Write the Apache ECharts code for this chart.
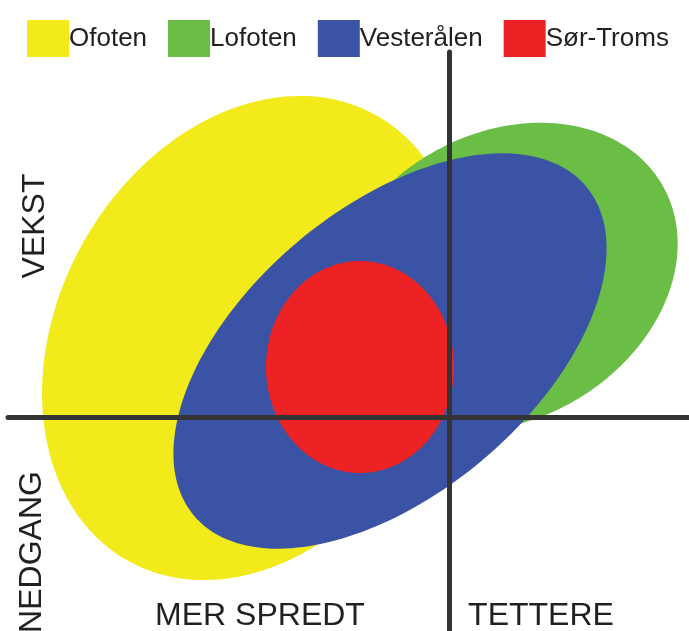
<!DOCTYPE html>
<html>
<head>
<meta charset="utf-8">
<script src="https://cdn.jsdelivr.net/npm/echarts@6/dist/echarts.min.js"></script>
<style>
  html, body { margin: 0; padding: 0; background: #fff; }
  #main { width: 689px; height: 631px; }
</style>
</head>
<body>
<div id="main"></div>
<script>
// regions, drawn in this order (later ones on top)
const regions = ['Ofoten', 'Lofoten', 'Vesterålen', 'Sør-Troms'];
const colors = ['#F2EA1A', '#6ABD45', '#3A53A4', '#ED2224'];
// ellipse per region, in axis units (origin = where the two lines cross)
const centerX = [-197, 54, -59, -89];
const centerY = [79, 140, 66, 50];
const radiusA = [255, 184, 256, 94];
const radiusB = [194, 143, 143, 106];
const tiltDeg = [61, 30, 40, 0];
// quadrant labels
const yLabels = ['VEKST', 'NEDGANG'];
const xLabels = ['MER SPREDT', 'TETTERE'];

const font = '"Liberation Sans", Arial, sans-serif';
const textColor = '#231f20';

const chart = echarts.init(document.getElementById('main'));

function renderEllipse(params, api) {
  var cx = api.value(0), cy = api.value(1);
  var ra = api.value(2), rb = api.value(3);
  var t = api.value(4) * Math.PI / 180;
  var pts = [];
  for (var i = 0; i < 200; i++) {
    var a = i / 200 * Math.PI * 2;
    var ex = ra * Math.cos(a), ey = rb * Math.sin(a);
    pts.push(api.coord([
      cx + ex * Math.cos(t) - ey * Math.sin(t),
      cy + ex * Math.sin(t) + ey * Math.cos(t)
    ]));
  }
  return {
    type: 'polygon',
    shape: { points: pts },
    style: { fill: api.visual('color') }
  };
}

const series = regions.map(function (name, i) {
  return {
    name: name,
    type: 'custom',
    renderItem: renderEllipse,
    itemStyle: { color: colors[i] },
    data: [[centerX[i], centerY[i], radiusA[i], radiusB[i], tiltDeg[i]]],
    encode: { x: 0, y: 1 },
    silent: true
  };
});

const axisLine = { show: true, onZero: true, lineStyle: { color: '#343434', width: 5 } };

const option = {
  animation: false,
  legend: {
    data: regions,
    left: 22,
    top: 15,
    icon: 'rect',
    itemWidth: 42,
    itemHeight: 37,
    itemGap: 21,
    selectedMode: false,
    // pull the text up against the colour box
    textStyle: { fontSize: 26, color: textColor, fontFamily: font, padding: [0, 0, 0, -5] }
  },
  grid: { left: 8, right: 0, top: 52, bottom: 0 },
  xAxis: {
    type: 'value', min: -441, max: 240, z: 10,
    axisLine: axisLine,
    axisTick: { show: false }, axisLabel: { show: false }, splitLine: { show: false }
  },
  yAxis: {
    type: 'value', min: -214, max: 365, z: 10,
    axisLine: axisLine,
    axisTick: { show: false }, axisLabel: { show: false }, splitLine: { show: false }
  },
  graphic: [
    { type: 'text', x: 35, y: 226, rotation: Math.PI / 2,
      style: { text: yLabels[0], fontSize: 32, fontFamily: font, fill: textColor, align: 'center', verticalAlign: 'middle' } },
    { type: 'text', x: 32, y: 552, rotation: Math.PI / 2,
      style: { text: yLabels[1], fontSize: 32, fontFamily: font, fill: textColor, align: 'center', verticalAlign: 'middle' } },
    { type: 'text', x: 260, y: 616,
      style: { text: xLabels[0], fontSize: 32, fontFamily: font, fill: textColor, align: 'center', verticalAlign: 'middle' } },
    { type: 'text', x: 541, y: 616,
      style: { text: xLabels[1], fontSize: 32, fontFamily: font, fill: textColor, align: 'center', verticalAlign: 'middle' } }
  ],
  series: series
};

chart.setOption(option);
</script>
</body>
</html>
